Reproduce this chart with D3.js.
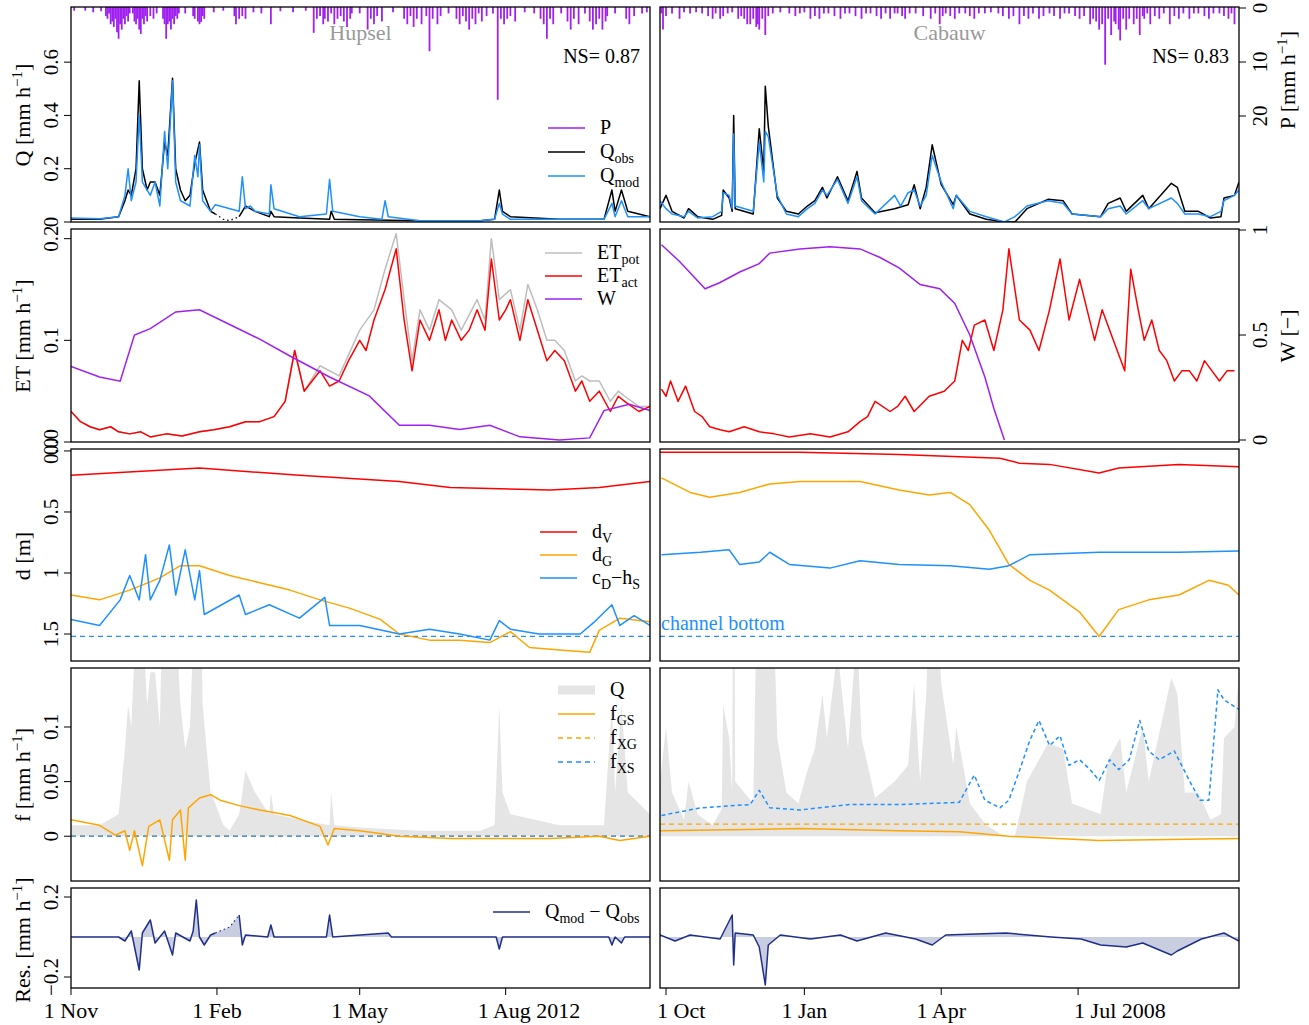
<!DOCTYPE html>
<html><head><meta charset="utf-8">
<script src="https://cdn.jsdelivr.net/npm/d3@7"></script>
<style>body{margin:0;background:#fff}svg{font-family:"Liberation Serif","Times New Roman",serif}</style>
</head><body><svg id="c" width="1309" height="1025"></svg>
<script>
// day offsets from panel start, values
const startL = new Date(2011, 10, 1), startR = new Date(2007, 8, 27);
const daysL = 365, daysR = 385;

const pL = [[2,0.5],[9,0.5],[14,0.8],[19,0.6],[22,1.5],[23,2],[24,1],[25,3],[26,2.5],[27,3.5],[28,2],[29,4.5],[30,5.7],[31,3],[32,4],[33,2],[34,3],[35,1.5],[36,2.5],[37,1],[39,1],[40,2.5],[41,3],[42,2],[43,4],[44,4.8],[45,2],[46,3],[47,1.5],[48,2.5],[50,1.5],[52,2],[54,1],[58,2],[59,3],[60,5.7],[61,3],[62,2.5],[63,4],[64,2],[65,3],[66,1.5],[67,2],[68,1],[72,1],[77,1.5],[78,2],[80,2.5],[81,3],[82,2.6],[83,1.5],[84,2],[90,0.8],[96,0.5],[103,1.5],[104,3],[106,2],[108,1.5],[110,2],[115,0.8],[120,1],[126,3],[132,0.6],[140,0.8],[148,0.5],[153,4.6],[155,2],[157,1.5],[159,3],[160,2],[162,2.5],[164,1],[166,3],[168,2],[170,1.5],[172,2.5],[174,3.5],[176,2],[177,1],[182,1],[187,4],[189,2],[191,3],[193,1.5],[196,2.5],[203,0.8],[210,2],[212,3],[214,1.5],[216,3.5],[218,2],[221,3],[224,1.5],[226,8],[228,2],[231,3],[233,1.5],[238,1],[243,2],[245,3],[247,1.5],[249,2.5],[251,4],[253,2],[255,3],[257,1],[259,2.5],[262,1.5],[266,1],[269,17],[271,2],[273,3],[275,2],[277,1.5],[280,2.5],[286,0.8],[292,1],[296,2],[298,3],[300,5.7],[302,2],[304,3],[309,1],[313,2.5],[315,4],[317,2],[320,3],[324,1],[327,2.5],[329,4],[331,3],[333,2],[335,4],[337,2.5],[338,1.5],[343,1],[350,2],[352,3],[355,1.5],[360,1],[363,0.8]];
const pR = [[1,1],[2,4],[4,1.5],[8,1],[13,2],[16,0.8],[20,1],[24,0.8],[28,1],[32,1.5],[35,2],[37,1],[40,2],[42,1.5],[45,1],[48,0.8],[52,2],[54,1.5],[56,2],[58,3],[60,3],[62,2],[64,3.5],[65,3],[66,4],[68,2],[70,5],[72,1.5],[75,1],[80,0.8],[86,1],[90,1.5],[93,1],[96,0.8],[100,2],[103,1.5],[106,2],[109,1],[112,1],[116,1.5],[120,2],[123,1],[126,1],[130,1.5],[134,2],[137,1],[140,1],[144,1.5],[147,2],[150,1],[153,2],[156,1],[158,1],[161,1.5],[163,2],[166,1],[170,1],[175,1.5],[180,2],[183,1],[186,3],[188,1.5],[190,1],[193,1.5],[196,2],[199,1],[203,1],[206,1.5],[209,2],[212,1],[216,1],[220,0.8],[225,1],[228,1.5],[232,2],[235,1.5],[239,3],[242,1.5],[245,2],[248,1],[252,2],[255,1.5],[259,1],[262,1.5],[266,2],[269,1],[272,1],[276,1.5],[279,2],[282,1.5],[286,3],[288,2],[290,2.5],[292,4],[294,3],[296,10.5],[298,2],[300,5],[302,2.5],[303,3],[305,4],[306,6],[308,2],[310,4],[312,2],[315,3],[317,2],[319,5],[321,1.5],[322,2],[324,1],[326,3],[329,1.5],[332,2],[335,1],[339,3],[342,1.5],[345,2],[348,1],[352,2],[355,1],[358,1],[362,1.5],[365,2],[368,1],[372,1],[375,1.5],[378,2],[380,1],[382,3]];

const qObsL = [[0,0.01],[18,0.01],[30,0.02],[34,0.08],[36,0.12],[38,0.1],[41,0.2],[43,0.53],[45,0.2],[48,0.12],[50,0.15],[53,0.15],[56,0.1],[59,0.3],[61,0.25],[64,0.54],[66,0.2],[69,0.12],[72,0.08],[75,0.1],[78,0.22],[81,0.3],[83,0.12],[88,0.04],[91,0.03]];
const qObsGapL = [[91,0.03],[96,0.01],[100,0.005],[106,0.02]];
const qObsL2 = [[106,0.02],[108,0.04],[110,0.06],[113,0.05],[116,0.04],[125,0.02],[126,0.04],[128,0.02],[144,0.015],[163,0.01],[164,0.04],[166,0.01],[182,0.008],[220,0.005],[258,0.005],[267,0.01],[270,0.12],[272,0.04],[277,0.02],[308,0.01],[336,0.01],[341,0.12],[343,0.04],[347,0.12],[351,0.04],[365,0.02]];
const qModL = [[0,0.015],[18,0.012],[30,0.02],[34,0.1],[36,0.2],[38,0.08],[41,0.15],[43,0.4],[45,0.15],[50,0.1],[53,0.15],[56,0.06],[59,0.34],[61,0.2],[64,0.53],[66,0.15],[69,0.08],[75,0.06],[78,0.25],[80,0.17],[81,0.29],[83,0.08],[88,0.04],[91,0.065],[106,0.04],[108,0.17],[110,0.05],[113,0.06],[116,0.04],[125,0.03],[126,0.14],[128,0.05],[144,0.02],[161,0.03],[163,0.16],[165,0.04],[182,0.02],[196,0.01],[198,0.08],[200,0.02],[220,0.005],[258,0.005],[267,0.01],[270,0.07],[272,0.03],[277,0.01],[336,0.01],[341,0.07],[343,0.02],[347,0.08],[351,0.02],[365,0.02]];
const qObsR = [[0,0.05],[4,0.1],[8,0.04],[16,0.015],[19,0.05],[25,0.02],[35,0.01],[41,0.025],[42,0.12],[46,0.09],[48,0.04],[49,0.4],[50,0.05],[62,0.03],[66,0.35],[69,0.19],[70,0.51],[72,0.36],[78,0.09],[84,0.04],[92,0.03],[98,0.06],[103,0.08],[108,0.13],[111,0.09],[118,0.17],[125,0.08],[131,0.19],[134,0.09],[143,0.035],[156,0.05],[165,0.065],[169,0.14],[173,0.05],[177,0.13],[181,0.29],[187,0.14],[195,0.065],[197,0.1],[206,0.03],[217,0.01],[229,0],[236,0],[244,0.05],[258,0.085],[268,0.08],[274,0.03],[293,0.02],[298,0.07],[306,0.09],[310,0.04],[321,0.1],[325,0.05],[340,0.145],[344,0.13],[349,0.04],[358,0.04],[366,0.015],[373,0.02],[375,0.09],[382,0.1],[385,0.15]];
const qModR = [[0,0.08],[4,0.05],[8,0.03],[16,0.02],[19,0.04],[25,0.015],[35,0.02],[41,0.04],[42,0.11],[46,0.1],[48,0.05],[49,0.33],[50,0.06],[62,0.04],[66,0.3],[69,0.15],[70,0.34],[72,0.32],[78,0.1],[84,0.03],[92,0.02],[98,0.05],[103,0.07],[108,0.12],[111,0.1],[118,0.16],[125,0.07],[131,0.17],[134,0.08],[143,0.03],[156,0.1],[160,0.06],[165,0.11],[169,0.12],[173,0.06],[177,0.1],[181,0.25],[187,0.15],[195,0.05],[197,0.1],[206,0.04],[217,0.02],[229,0],[236,0.02],[244,0.06],[258,0.08],[268,0.07],[274,0.03],[293,0.02],[298,0.05],[306,0.06],[310,0.03],[321,0.08],[325,0.05],[340,0.09],[344,0.07],[349,0.03],[358,0.03],[366,0.02],[373,0.04],[375,0.08],[382,0.1],[385,0.12]];

const etActL = [[0,0.03],[6,0.02],[12,0.015],[18,0.012],[25,0.015],[30,0.01],[37,0.008],[44,0.01],[50,0.005],[60,0.008],[70,0.006],[81,0.01],[90,0.012],[100,0.015],[110,0.02],[119,0.02],[128,0.025],[135,0.04],[141,0.09],[147,0.05],[152,0.06],[157,0.07],[163,0.055],[169,0.06],[175,0.08],[182,0.1],[186,0.09],[191,0.12],[198,0.15],[205,0.19],[210,0.12],[215,0.07],[220,0.12],[226,0.1],[232,0.13],[236,0.1],[240,0.12],[246,0.1],[251,0.11],[256,0.13],[261,0.11],[265,0.18],[270,0.12],[274,0.13],[277,0.14],[283,0.1],[288,0.14],[294,0.11],[300,0.08],[305,0.09],[311,0.08],[318,0.05],[322,0.06],[327,0.04],[333,0.05],[340,0.03],[345,0.045],[349,0.04],[358,0.03],[365,0.035]];
const etPotL = [[0,0.03],[6,0.02],[12,0.015],[18,0.012],[25,0.015],[30,0.01],[37,0.008],[44,0.01],[50,0.005],[60,0.008],[70,0.006],[81,0.01],[90,0.012],[100,0.015],[110,0.02],[119,0.02],[128,0.025],[135,0.04],[141,0.09],[147,0.05],[157,0.075],[169,0.065],[182,0.11],[191,0.13],[198,0.17],[205,0.205],[210,0.14],[215,0.08],[220,0.13],[226,0.11],[232,0.14],[240,0.13],[246,0.11],[256,0.14],[261,0.12],[265,0.2],[270,0.14],[277,0.15],[283,0.11],[288,0.155],[294,0.13],[300,0.1],[305,0.1],[311,0.09],[318,0.06],[322,0.065],[327,0.06],[333,0.06],[340,0.04],[345,0.05],[349,0.045],[358,0.035],[365,0.035]];
const wL = [[0,0.35],[18,0.3],[31,0.28],[40,0.5],[50,0.53],[66,0.61],[81,0.62],[100,0.55],[119,0.48],[138,0.4],[163,0.3],[188,0.21],[207,0.07],[226,0.07],[245,0.05],[264,0.07],[283,0.015],[308,0],[327,0.01],[336,0.14],[352,0.17],[365,0.14]];
const etActR = [[1,0.052],[4,0.045],[7,0.06],[12,0.04],[17,0.055],[23,0.03],[28,0.025],[33,0.015],[40,0.012],[46,0.01],[56,0.015],[66,0.01],[76,0.008],[86,0.005],[100,0.008],[113,0.005],[125,0.01],[133,0.02],[138,0.025],[143,0.04],[153,0.03],[158,0.035],[163,0.045],[169,0.03],[179,0.045],[189,0.05],[196,0.06],[201,0.1],[205,0.09],[209,0.115],[216,0.12],[222,0.09],[228,0.13],[232,0.19],[239,0.12],[246,0.11],[252,0.09],[259,0.13],[266,0.18],[272,0.12],[279,0.16],[284,0.13],[289,0.1],[294,0.13],[299,0.11],[304,0.09],[309,0.07],[313,0.17],[318,0.13],[322,0.1],[327,0.12],[332,0.09],[337,0.08],[342,0.06],[347,0.07],[352,0.07],[357,0.06],[362,0.08],[367,0.07],[372,0.06],[377,0.07],[382,0.07]];
const wR = [[1,0.93],[13,0.85],[30,0.72],[40,0.75],[53,0.8],[66,0.84],[73,0.89],[93,0.91],[113,0.92],[133,0.91],[146,0.87],[159,0.82],[173,0.74],[186,0.72],[196,0.65],[206,0.5],[216,0.3],[222,0.15],[229,0]];

const dVL = [[0,0.2],[81,0.14],[144,0.2],[207,0.25],[239,0.3],[302,0.32],[333,0.3],[365,0.25]];
const dGL = [[0,1.18],[18,1.22],[37,1.14],[56,1.04],[69,0.94],[81,0.94],[100,1.02],[119,1.08],[138,1.14],[157,1.22],[176,1.29],[195,1.38],[207,1.5],[226,1.55],[245,1.55],[264,1.57],[277,1.48],[289,1.61],[308,1.63],[327,1.65],[333,1.47],[346,1.37],[365,1.4]];
const cdL = [[0,1.38],[18,1.43],[31,1.22],[37,1.02],[43,1.22],[47,0.85],[50,1.22],[56,1.06],[62,0.77],[66,1.18],[72,0.81],[78,1.22],[81,0.98],[84,1.34],[106,1.18],[110,1.34],[125,1.26],[144,1.37],[160,1.2],[163,1.43],[182,1.43],[207,1.5],[226,1.46],[245,1.5],[264,1.55],[270,1.39],[277,1.46],[295,1.5],[321,1.5],[330,1.4],[341,1.26],[346,1.43],[355,1.35],[365,1.43]];
const dVR = [[0,0.01],[93,0.01],[159,0.03],[226,0.06],[239,0.1],[259,0.11],[292,0.18],[305,0.14],[345,0.11],[385,0.13]];
const dGR = [[1,0.22],[20,0.34],[33,0.38],[53,0.34],[73,0.27],[93,0.25],[133,0.25],[159,0.32],[179,0.36],[193,0.34],[206,0.44],[219,0.65],[232,0.93],[246,1.06],[259,1.14],[279,1.32],[292,1.52],[305,1.3],[325,1.22],[345,1.18],[365,1.06],[378,1.1],[385,1.18]];
const cdR = [[1,0.85],[27,0.83],[46,0.81],[53,0.93],[66,0.91],[73,0.83],[86,0.93],[113,0.96],[133,0.9],[159,0.93],[193,0.94],[219,0.97],[232,0.94],[246,0.85],[292,0.83],[345,0.83],[385,0.82]];
const channelBottom = 1.52;

const fGSL = [[0,0.015],[18,0.01],[28,0.001],[34,0.005],[37,-0.013],[40,0.005],[45,-0.027],[49,0.009],[56,0.015],[62,-0.022],[64,0.015],[69,0.024],[72,-0.022],[74,0.026],[81,0.035],[88,0.038],[94,0.033],[106,0.028],[119,0.024],[138,0.019],[157,0.009],[162,-0.008],[166,0.007],[182,0.005],[207,0],[239,-0.002],[270,-0.002],[302,-0.002],[333,0],[346,-0.004],[365,0]];
const fGSR = [[0,0.005],[93,0.007],[159,0.005],[199,0.004],[232,0],[292,-0.004],[385,-0.002]];
const fXGR = 0.011;
const fXSR = [[1,0.019],[27,0.026],[60,0.029],[66,0.042],[73,0.026],[93,0.024],[126,0.029],[159,0.029],[199,0.031],[209,0.056],[216,0.033],[226,0.026],[232,0.033],[239,0.06],[246,0.088],[252,0.106],[259,0.083],[266,0.092],[272,0.065],[279,0.07],[286,0.061],[292,0.051],[299,0.07],[305,0.061],[312,0.07],[319,0.106],[325,0.078],[332,0.07],[342,0.078],[352,0.051],[359,0.033],[365,0.033],[371,0.134],[375,0.125],[385,0.116]];

const resL = [[0,0],[30,0],[34,-0.02],[38,0.03],[43,-0.165],[45,0.02],[50,0.085],[53,-0.03],[59,0.03],[64,-0.09],[66,0.02],[75,-0.02],[77,0.03],[79,0.185],[81,0],[84,-0.04],[88,0.01],[91,0.02]];
const resGapL = [[91,0.02],[100,0.05],[106,0.11]];
const resL2 = [[106,0.11],[108,-0.04],[110,0.01],[124,0],[126,0.06],[128,0],[161,0],[163,0.11],[165,0],[200,0.02],[202,0],[268,0],[270,-0.06],[272,0],[339,0],[341,-0.04],[343,0],[347,-0.03],[349,0],[365,0]];
const resR = [[0,0.01],[10,-0.02],[20,0.01],[40,-0.01],[48,0.11],[49,-0.14],[50,0.02],[62,0.01],[66,-0.05],[70,-0.24],[72,-0.04],[80,0.01],[100,-0.01],[120,0.01],[131,-0.02],[150,0.02],[170,-0.01],[181,-0.04],[190,0.01],[230,0.02],[260,0],[280,-0.01],[293,-0.04],[310,-0.05],[321,-0.03],[340,-0.09],[344,-0.07],[360,-0.01],[375,0.02],[385,-0.02]];

const col = {P:'#a020f0', obs:'#000', mod:'#1e90ff', pot:'#bebebe', act:'#ff0000', W:'#a020f0', orange:'#ffa500', grey:'#e5e5e5', res:'#1f2f8a'};

const svg = d3.select('#c');
const cols = [{x0:71,x1:650,start:startL,days:daysL},{x0:660,x1:1239,start:startR,days:daysR}];
const rows = [{y0:7,y1:222,dom:[0,0.807]},{y0:229,y1:442,dom:[0,0.2095]},{y0:449,y1:661,dom:[1.721,-0.016]},{y0:668,y1:881,dom:[-0.041,0.154]},{y0:888,y1:988,dom:[-0.255,0.245]}];
let clipN = 0;
function panel(r, c) {
  const R = rows[r], C = cols[c];
  const x = d3.scaleTime().domain([C.start, d3.timeDay.offset(C.start, C.days)]).range([C.x0, C.x1]);
  const y = d3.scaleLinear().domain(R.dom).range([R.y1, R.y0]);
  const id = 'cl' + (clipN++);
  svg.append('clipPath').attr('id', id).append('rect').attr('x', C.x0).attr('y', R.y0).attr('width', C.x1 - C.x0).attr('height', R.y1 - R.y0);
  const g = svg.append('g').attr('clip-path', 'url(#' + id + ')');
  const X = d => x(d3.timeDay.offset(C.start, d));
  const line = d3.line().x(d => X(d[0])).y(d => y(d[1]));
  const add = (data, color, w, dash) => g.append('path').attr('d', line(data)).attr('fill', 'none').attr('stroke', color).attr('stroke-width', w || 1.5).attr('stroke-dasharray', dash || null).attr('stroke-linejoin', 'round');
  const area = (data, color, base) => g.append('path').attr('d', d3.area().x(d => X(d[0])).y0(y(base)).y1(d => y(d[1]))(data)).attr('fill', color);
  return {x, y, g, X, add, area, R, C, frame() { svg.append('rect').attr('x', C.x0).attr('y', R.y0).attr('width', C.x1 - C.x0).attr('height', R.y1 - R.y0).attr('fill', 'none').attr('stroke', '#000').attr('stroke-width', 1.3); }};
}
function yAxisLeft(p, ticks, fmt) {
  ticks.forEach(t => {
    const yy = p.y(t);
    svg.append('line').attr('x1', p.C.x0 - 7).attr('x2', p.C.x0).attr('y1', yy).attr('y2', yy).attr('stroke', '#000');
    svg.append('text').attr('transform', `translate(${p.C.x0 - 13},${yy}) rotate(-90)`).attr('text-anchor', 'middle').attr('font-size', 21).text(fmt ? fmt(t) : t);
  });
}
function yAxisRight(p, scale, ticks) {
  ticks.forEach(t => {
    const yy = scale(t);
    svg.append('line').attr('x1', p.C.x1).attr('x2', p.C.x1 + 7).attr('y1', yy).attr('y2', yy).attr('stroke', '#000');
    svg.append('text').attr('transform', `translate(${p.C.x1 + 28},${yy}) rotate(-90)`).attr('text-anchor', 'middle').attr('font-size', 21).text(t);
  });
}
function ylab(xx, yy, parts) {
  const t = svg.append('text').attr('transform', `translate(${xx},${yy}) rotate(-90)`).attr('text-anchor', 'middle').attr('font-size', 22);
  parts.forEach(pt => t.append('tspan').attr('baseline-shift', pt[1] || null).attr('font-size', pt[1] ? 15 : null).text(pt[0]));
}
function legend(x, y0, dy, items) {
  items.forEach((it, i) => {
    const yy = y0 + i * dy;
    svg.append('line').attr('x1', x).attr('x2', x + 37).attr('y1', yy).attr('y2', yy).attr('stroke', it.c).attr('stroke-width', it.w || 1.5).attr('stroke-dasharray', it.dash || null);
    const t = svg.append('text').attr('x', x + 52).attr('y', yy + 6).attr('font-size', 20);
    it.t.forEach(pt => t.append('tspan').attr('font-size', pt[1] ? 14 : null).attr('dy', pt[1] ? 5 : (pt[2] ? -5 : null)).text(pt[0]));
  });
}

// Row 1: Q and P
[[qObsL, qModL, pL, 'Hupsel', 'NS= 0.87'], [qObsR, qModR, pR, 'Cabauw', 'NS= 0.83']].forEach((s, c) => {
  const p = panel(0, c);
  const pScale = d3.scaleLinear().domain([0, 40]).range([p.R.y0 + 1, p.R.y0 + 217]);
  s[2].forEach(b => p.g.append('line').attr('x1', p.X(b[0])).attr('x2', p.X(b[0])).attr('y1', p.R.y0).attr('y2', pScale(b[1])).attr('stroke', col.P).attr('stroke-width', 1.8));
  if (c === 0) {
    p.add(qObsL, col.obs); p.add(qObsGapL, col.obs, 1.2, '1.5,3'); p.add(qObsL2, col.obs);
  } else p.add(s[0], col.obs);
  p.add(s[1], col.mod);
  svg.append('text').attr('x', (p.C.x0 + p.C.x1) / 2).attr('y', 40).attr('text-anchor', 'middle').attr('font-size', 22).attr('fill', '#999').text(s[3]);
  svg.append('text').attr('x', p.C.x1 - 10).attr('y', 63).attr('text-anchor', 'end').attr('font-size', 20).text(s[4]);
  p.frame();
  if (c === 0) yAxisLeft(p, [0, 0.2, 0.4, 0.6]); else yAxisRight(p, pScale, [0, 10, 20]);
});
legend(548, 128, 24, [{c: col.P, t: [['P']]}, {c: col.obs, t: [['Q'], ['obs', 1]]}, {c: col.mod, t: [['Q'], ['mod', 1]]}]);

// Row 2: ET and W
[[etPotL, etActL, wL], [null, etActR, wR]].forEach((s, c) => {
  const p = panel(1, c);
  const wScale = d3.scaleLinear().domain([0, 1]).range([440, 230]);
  if (s[0]) p.add(s[0], col.pot);
  p.add(s[1], col.act);
  p.g.append('path').attr('d', d3.line().x(d => p.X(d[0])).y(d => wScale(d[1]))(s[2])).attr('fill', 'none').attr('stroke', col.W).attr('stroke-width', 1.5);
  p.frame();
  if (c === 0) yAxisLeft(p, [0, 0.1, 0.2], d3.format('.1f')); else yAxisRight(p, wScale, [0, 0.5, 1]);
});
legend(545, 253, 23, [{c: col.pot, t: [['ET'], ['pot', 1]]}, {c: col.act, t: [['ET'], ['act', 1]]}, {c: col.W, t: [['W']]}]);

// Row 3: depths
[[dVL, dGL, cdL], [dVR, dGR, cdR]].forEach((s, c) => {
  const p = panel(2, c);
  p.g.append('line').attr('x1', p.C.x0).attr('x2', p.C.x1).attr('y1', p.y(channelBottom)).attr('y2', p.y(channelBottom)).attr('stroke', col.mod).attr('stroke-width', 1.3).attr('stroke-dasharray', '5,4');
  p.add(s[0], col.act); p.add(s[1], col.orange); p.add(s[2], col.mod);
  p.frame();
  if (c === 0) yAxisLeft(p, [0, 0.5, 1, 1.5], d => d === 0 ? '0.0' : d);
  else svg.append('text').attr('x', p.C.x0 + 1).attr('y', p.y(channelBottom) - 6).attr('font-size', 20).attr('fill', col.mod).text('channel bottom');
});
legend(540, 532, 23, [{c: col.act, t: [['d'], ['V', 1]]}, {c: col.orange, t: [['d'], ['G', 1]]}, {c: col.mod, t: [['c'], ['D', 1], ['\u2212h', 0, 1], ['S', 1]]}]);

// Row 4: fluxes
[[qObsL.concat(qObsGapL, qObsL2), fGSL], [qObsR, fGSR]].forEach((s, c) => {
  const p = panel(3, c);
  p.area(s[0], col.grey, 0);
  if (c === 0) {
    p.add([[0, 0], [daysL, 0]], col.orange, 1.3, '5,4');
    p.add([[0, 0], [daysL, 0]], col.mod, 1.3, '5,4');
  } else {
    p.add([[0, fXGR], [daysR, fXGR]], col.orange, 1.3, '5,4');
    p.add(fXSR, col.mod, 1.5, '4,3');
  }
  p.add(s[1], col.orange);
  p.frame();
  if (c === 0) yAxisLeft(p, [0, 0.05, 0.1]);
});
legend(558, 690, 24, [{c: col.grey, w: 9, t: [['Q']]}, {c: col.orange, t: [['f'], ['GS', 1]]}, {c: col.orange, dash: '5,4', t: [['f'], ['XG', 1]]}, {c: col.mod, dash: '5,4', t: [['f'], ['XS', 1]]}]);

// Row 5: residuals
[[resL.concat(resGapL, resL2)], [resR]].forEach((s, c) => {
  const p = panel(4, c);
  p.area(s[0], '#c9cde0', 0);
  if (c === 0) { p.add(resL, col.res); p.add(resGapL, col.res, 1.2, '1.5,3'); p.add(resL2, col.res); }
  else p.add(resR, col.res);
  p.frame();
  if (c === 0) yAxisLeft(p, [-0.2, 0.2], d => d < 0 ? '\u22120.2' : '0.2');
});
legend(493, 912, 0, [{c: col.res, t: [['Q'], ['mod', 1], [' \u2212 Q', 0, 1], ['obs', 1]]}]);

// y labels
ylab(30, 115, [['Q [mm h'], ['\u22121', 'super'], [']']]);
ylab(30, 336, [['ET [mm h'], ['\u22121', 'super'], [']']]);
ylab(30, 556, [['d [m]']]);
ylab(30, 775, [['f [mm h'], ['\u22121', 'super'], [']']]);
ylab(30, 940, [['Res. [mm h'], ['\u22121', 'super'], [']']]);
ylab(1295, 80, [['P [mm h'], ['\u22121', 'super'], [']']]);
ylab(1295, 336, [['W [\u2212]']]);

// bottom time axis
const ticksL = [[new Date(2011, 10, 1), '1 Nov'], [new Date(2012, 1, 1), '1 Feb'], [new Date(2012, 4, 1), '1 May'], [new Date(2012, 7, 1), '1 Aug 2012']];
const ticksR = [[new Date(2007, 9, 1), '1 Oct'], [new Date(2008, 0, 1), '1 Jan'], [new Date(2008, 3, 1), '1 Apr'], [new Date(2008, 6, 1), '1 Jul 2008']];
[ticksL, ticksR].forEach((tk, c) => {
  const C = cols[c];
  const x = d3.scaleTime().domain([C.start, d3.timeDay.offset(C.start, C.days)]).range([C.x0, C.x1]);
  tk.forEach((t, i) => {
    const xx = x(t[0]);
    svg.append('line').attr('x1', xx).attr('x2', xx).attr('y1', 988).attr('y2', 995).attr('stroke', '#000');
    const long = t[1].length > 6;
    let tx = long ? xx - (c === 0 ? 28 : 4) : xx, anchor = long ? 'start' : 'middle';
    if (c === 1 && i === 0) { tx = C.x0 - 3; anchor = 'start'; }
    svg.append('text').attr('x', tx).attr('y', 1018).attr('text-anchor', anchor).attr('font-size', 22).text(t[1]);
  });
});
</script></body></html>
